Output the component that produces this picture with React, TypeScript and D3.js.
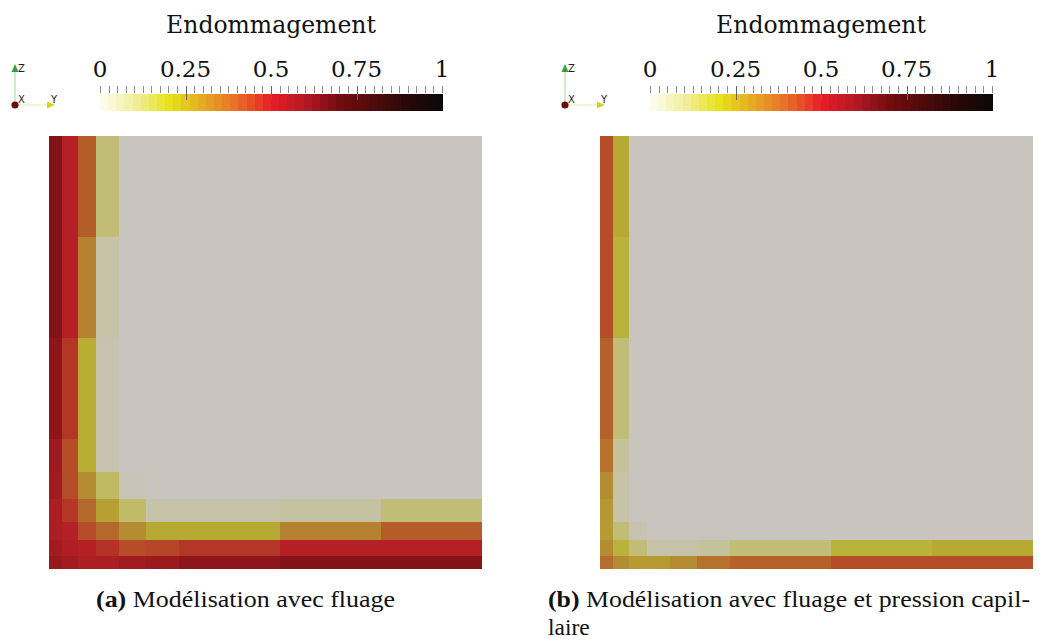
import * as d3 from "d3";

// mesh node coordinates (normalised), same in both directions
const meshEdges = [0, 0.03, 0.067, 0.109, 0.162, 0.224, 0.3, 0.533, 0.767, 1];

// damage per cell, rows from bottom (j=0) to top, columns from left (i=0)
const damageA = [
  [0.6, 0.56, 0.53, 0.53, 0.56, 0.58, 0.62, 0.65, 0.65],
  [0.56, 0.52, 0.5, 0.47, 0.42, 0.43, 0.46, 0.5, 0.5],
  [0.53, 0.5, 0.42, 0.37, 0.3, 0.22, 0.22, 0.32, 0.39],
  [0.53, 0.46, 0.37, 0.25, 0.12, 0.03, 0.03, 0.04, 0.1],
  [0.56, 0.42, 0.3, 0.13, 0.01, 0, 0, 0, 0],
  [0.58, 0.42, 0.21, 0.02, 0, 0, 0, 0, 0],
  [0.62, 0.46, 0.21, 0.02, 0, 0, 0, 0, 0],
  [0.65, 0.5, 0.32, 0.03, 0, 0, 0, 0, 0],
  [0.65, 0.5, 0.39, 0.1, 0, 0, 0, 0, 0],
];
const damageB = [
  [0.36, 0.3, 0.26, 0.26, 0.3, 0.35, 0.38, 0.42, 0.42],
  [0.3, 0.19, 0.1, 0.03, 0.03, 0.05, 0.1, 0.19, 0.22],
  [0.26, 0.1, 0.02, 0, 0, 0, 0, 0, 0],
  [0.27, 0.03, 0, 0, 0, 0, 0, 0, 0],
  [0.3, 0.03, 0, 0, 0, 0, 0, 0, 0],
  [0.35, 0.05, 0, 0, 0, 0, 0, 0, 0],
  [0.38, 0.1, 0, 0, 0, 0, 0, 0, 0],
  [0.42, 0.19, 0, 0, 0, 0, 0, 0, 0],
  [0.42, 0.22, 0, 0, 0, 0, 0, 0, 0],
];

const legendTicks = [0, 0.25, 0.5, 0.75, 1];
const legendTitle = "Endommagement";
const captions = [
  { tag: "(a)", lines: [" Modélisation avec fluage"] },
  { tag: "(b)", lines: [" Modélisation avec fluage et pression capil-", "laire"] },
];

const stops = [0, 0.1, 0.2, 0.3, 0.4, 0.5, 0.6, 0.7, 0.8, 0.9, 1];
// colour map as shown in the colour bar
const legendColor = d3
  .scaleLinear<string>()
  .domain(stops)
  .range(["#fffef5", "#f2eea0", "#e6e41a", "#e4aa23", "#e86e28", "#e81e28", "#b41923", "#730c0f", "#500a0a", "#280808", "#0c0808"])
  .interpolate(d3.interpolateRgb);
// same map seen through the scene lighting
const litColor = d3
  .scaleLinear<string>()
  .domain(stops)
  .range(["rgb(200,197,190)", "rgb(193,189,118)", "rgb(184,178,52)", "rgb(180,140,50)", "rgb(180,88,40)", "rgb(180,32,38)", "rgb(150,24,29)", "rgb(110,16,20)", "rgb(70,10,12)", "rgb(35,8,8)", "rgb(10,6,6)"])
  .interpolate(d3.interpolateRgb);

const W = 1043;
const H = 641;
const panelDx = 550;
const serif = "'DejaVu Serif', serif";
const times = "'Liberation Serif', 'Times New Roman', serif";

function Triad({ ox }: { ox: number }) {
  const cx = ox + 15;
  const cy = 105;
  return (
    <g>
      <line x1={cx} y1={cy} x2={cx} y2={71} stroke="#9ddc8f" strokeWidth={1} />
      <path d={`M${cx - 3.5},${72} L${cx + 3.5},${72} L${cx},${64} Z`} fill="#3d9c3d" />
      <line x1={cx} y1={cy} x2={cx + 34} y2={cy} stroke="#eeee9a" strokeWidth={1} />
      <path d={`M${cx + 32},${cy - 3.5} L${cx + 32},${cy + 3.5} L${cx + 40},${cy} Z`} fill="#d6d21e" />
      <circle cx={cx} cy={cy} r={3.6} fill="#6e0d0d" />
      <g fontFamily="'DejaVu Sans', sans-serif" fontSize={10} fill="#222">
        <text x={cx + 3} y={72}>Z</text>
        <text x={cx + 3} y={103}>X</text>
        <text x={cx + 36} y={103}>Y</text>
      </g>
    </g>
  );
}

function ColorBar({ ox }: { ox: number }) {
  const x = d3.scaleLinear([0, 1], [ox + 100, ox + 442]);
  const nBands = 42;
  const bands = d3.range(nBands).map((k) => k / nBands);
  const minor = d3.range(0, 41).map((k) => k / 40);
  return (
    <g>
      <text x={ox + 271} y={33} textAnchor="middle" fontFamily={serif} fontSize={23.5} fill="#111">
        {legendTitle}
      </text>
      {legendTicks.map((t) => (
        <text key={t} x={x(t)} y={77} textAnchor="middle" fontFamily={serif} fontSize={23} fill="#111">
          {String(t)}
        </text>
      ))}
      <g shapeRendering="crispEdges">
        {bands.map((b) => (
          <rect key={b} x={x(b)} y={94} width={x(b + 1 / nBands) - x(b) + 0.5} height={17} fill={legendColor(b + 0.5 / nBands)} />
        ))}
      </g>
      <g stroke="#8a8a8a" strokeWidth={1}>
        {minor.map((t) => (
          <line key={t} x1={Math.round(x(t)) + 0.5} x2={Math.round(x(t)) + 0.5} y1={86} y2={93} />
        ))}
        {legendTicks.slice(1, -1).map((t) => (
          <line key={t} x1={Math.round(x(t)) + 0.5} x2={Math.round(x(t)) + 0.5} y1={86} y2={100} stroke="#666" />
        ))}
      </g>
    </g>
  );
}

function Mesh({ ox, damage }: { ox: number; damage: number[][] }) {
  const x = d3.scaleLinear([0, 1], [ox + 49, ox + 482]);
  const y = d3.scaleLinear([0, 1], [569, 136]);
  const cells = damage.flatMap((row, j) => row.map((v, i) => ({ i, j, v })));
  return (
    <g shapeRendering="crispEdges">
      {cells.map((c) => (
        <rect
          key={`${c.i}-${c.j}`}
          x={x(meshEdges[c.i])}
          y={y(meshEdges[c.j + 1])}
          width={x(meshEdges[c.i + 1]) - x(meshEdges[c.i])}
          height={y(meshEdges[c.j]) - y(meshEdges[c.j + 1])}
          fill={litColor(c.v)}
        />
      ))}
    </g>
  );
}

export default function App() {
  const panels = [damageA, damageB];
  return (
    <svg width={W} height={H} style={{ position: "absolute", left: 0, top: 0, display: "block", background: "#fff" }}>
      {panels.map((d, k) => (
        <g key={k}>
          <Triad ox={k * panelDx} />
          <ColorBar ox={k * panelDx} />
          <Mesh ox={k === 0 ? 0 : 551} damage={d} />
        </g>
      ))}
      <text x={96} y={607} fontFamily={times} fontSize={23.5} fill="#111" textLength={299} lengthAdjust="spacingAndGlyphs">
        <tspan fontWeight="bold">{captions[0].tag}</tspan>
        {captions[0].lines[0]}
      </text>
      <text x={548} y={607} fontFamily={times} fontSize={23.5} fill="#111" textLength={482} lengthAdjust="spacingAndGlyphs">
        <tspan fontWeight="bold">{captions[1].tag}</tspan>
        {captions[1].lines[0]}
      </text>
      <text x={548} y={635} fontFamily={times} fontSize={23.5} fill="#111">
        {captions[1].lines[1]}
      </text>
    </svg>
  );
}
